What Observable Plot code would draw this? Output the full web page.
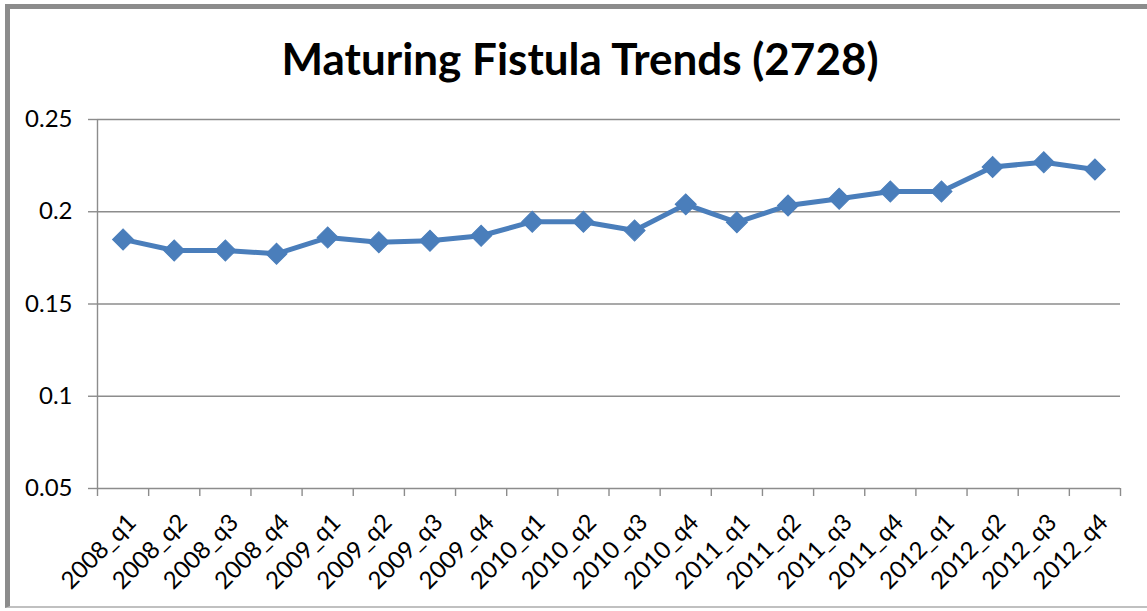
<!DOCTYPE html>
<html>
<head>
<meta charset="utf-8">
<script src="https://cdn.jsdelivr.net/npm/d3@7"></script>
<script src="https://cdn.jsdelivr.net/npm/@observablehq/plot@0.6"></script>
<style>
  html, body { margin: 0; padding: 0; background: #fff; }
  #wrap { position: relative; width: 1147px; height: 611px; overflow: hidden; }
  #frame { position: absolute; left: 5px; top: 4px; width: 1200px; height: 604px;
           border-top: 5px solid #8c8c8c; border-left: 5px solid #8c8c8c; border-bottom: 2px solid #c0c0c0;
           box-sizing: border-box; }
  #title { position: absolute; left: 0; width: 1160px; top: 28px; text-align: center;
           font-family: Lato, "Open Sans", sans-serif; font-weight: bold; font-size: 44px; line-height: 60px; color: #000; }
  #chart { position: absolute; left: 0; top: 0; }
  #chart svg text { font-size: 24px; font-family: Lato, "Open Sans", sans-serif; }
</style>
</head>
<body>
<div id="wrap"><div id="frame"></div><div id="chart"></div><div id="title"></div></div>
<script>
const quarters = ["2008_q1","2008_q2","2008_q3","2008_q4","2009_q1","2009_q2","2009_q3","2009_q4",
  "2010_q1","2010_q2","2010_q3","2010_q4","2011_q1","2011_q2","2011_q3","2011_q4",
  "2012_q1","2012_q2","2012_q3","2012_q4"];
const rates = [0.185,0.179,0.179,0.1772,0.186,0.1835,0.1843,0.187,
  0.1946,0.1946,0.1898,0.204,0.1943,0.2034,0.2071,0.211,
  0.211,0.2243,0.2268,0.2229];
const yTicks = [0.05,0.1,0.15,0.2,0.25];
const yTickLabels = ["0.05","0.1","0.15","0.2","0.25"];
const title = "Maturing Fistula Trends (2728)";

document.getElementById("title").textContent = title;

// category index positions: point i sits at the centre of band i
const data = quarters.map((q, i) => ({q, i: i + 0.5, v: rates[i]}));
const centers = quarters.map((q, i) => i + 0.5);
const bounds = d3.range(quarters.length + 1);
const blue = "#4a7ebb";
const gray = "#8c8c8c";

const chart = Plot.plot({
  width: 1147,
  height: 611,
  marginLeft: 97,
  marginRight: 27,
  marginTop: 119,
  marginBottom: 123,
  style: {background: "transparent", overflow: "visible", color: "#000"},
  x: {type: "linear", domain: [0, quarters.length], label: null},
  y: {domain: [0.05, 0.25], label: null},
  marks: [
    Plot.ruleY(yTicks, {stroke: gray, strokeWidth: 1.4}),
    Plot.ruleX([0], {stroke: gray, strokeWidth: 1.4}),
    Plot.axisY(yTicks, {tickFormat: d => yTickLabels[yTicks.indexOf(d)], tickSize: 9, tickPadding: 16,
      stroke: gray, strokeWidth: 1.4, fill: "#000", label: null}),
    Plot.axisX(bounds, {tickSize: 8, tickFormat: () => "", stroke: gray, strokeWidth: 1.4, label: null}),
    Plot.axisX(centers, {tickSize: 0, tickRotate: -45, textAnchor: "end", fill: "#000",
      tickPadding: 30, dx: 9, tickFormat: d => quarters[Math.round(d - 0.5)], label: null}),
    Plot.line(data, {x: "i", y: "v", stroke: blue, strokeWidth: 5}),
    Plot.dot(data, {x: "i", y: "v", symbol: "square", rotate: 45, r: 8.4, fill: blue, stroke: blue, strokeWidth: 1})
  ]
});
document.getElementById("chart").appendChild(chart);
</script>
</body>
</html>
